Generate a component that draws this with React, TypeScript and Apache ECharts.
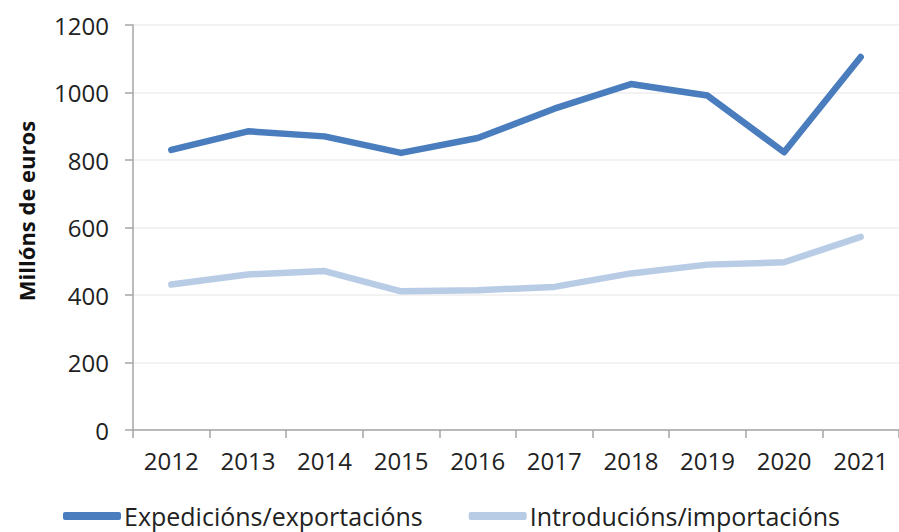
import React, { useEffect, useRef } from "react";
import * as echarts from "echarts";

const years = ["2012", "2013", "2014", "2015", "2016", "2017", "2018", "2019", "2020", "2021"];
const exportsData = [830, 885, 870, 821, 865, 952, 1025, 991, 823, 1105];
const importsData = [431, 461, 471, 411, 414, 424, 464, 490, 497, 572];
const seriesNames = ["Expedicións/exportacións", "Introducións/importacións"];
const yTitle = "Millóns de euros";

const FONT = "Open Sans";

export default function App() {
  const ref = useRef<HTMLDivElement>(null);
  useEffect(() => {
    if (!ref.current) return;
    const chart = echarts.init(ref.current, null, { renderer: "svg" });
    chart.setOption({
      animation: false,
      backgroundColor: "#ffffff",
      textStyle: { fontFamily: FONT },
      grid: { left: 133, top: 25, bottom: 102, width: 773 },
      legend: {
        left: 63,
        top: 503,
        padding: 0,
        itemWidth: 58,
        itemHeight: 8,
        itemGap: 46,
        icon: "roundRect",
        textStyle: {
          fontFamily: FONT,
          fontSize: 25,
          lineHeight: 26,
          color: "#222222",
          padding: [0, 0, 0, -2],
        },
        data: seriesNames,
      },
      xAxis: {
        type: "category",
        data: years,
        axisLine: { lineStyle: { color: "#a6a6a6", width: 1.5 } },
        axisTick: { show: true, length: 8, lineStyle: { color: "#a6a6a6", width: 1.5 } },
        axisLabel: { fontFamily: FONT, fontSize: 24, color: "#222222", margin: 18 },
      },
      yAxis: {
        type: "value",
        min: 0,
        max: 1200,
        interval: 200,
        axisLine: { show: true, lineStyle: { color: "#a6a6a6", width: 1.5 } },
        axisTick: { show: true, length: 8, lineStyle: { color: "#a6a6a6", width: 1.5 } },
        axisLabel: {
          fontFamily: FONT,
          fontSize: 24,
          color: "#222222",
          margin: 24,
          formatter: (v: number) => String(v),
        },
        splitLine: { show: true, lineStyle: { color: "#eeeeee", width: 1.5 } },
      },
      graphic: [
        {
          type: "text",
          x: 26,
          y: 211,
          rotation: Math.PI / 2,
          style: {
            text: yTitle,
            fontFamily: FONT,
            fontSize: 22,
            fontWeight: "bold",
            fill: "#111111",
            textAlign: "center",
            textVerticalAlign: "middle",
          },
        },
      ],
      series: [
        {
          name: seriesNames[0],
          type: "line",
          data: exportsData,
          symbol: "none",
          color: "#4a7dbd",
          lineStyle: { width: 6.5, color: "#4a7dbd", cap: "round", join: "round" },
        },
        {
          name: seriesNames[1],
          type: "line",
          data: importsData,
          symbol: "none",
          color: "#b8cce6",
          lineStyle: { width: 6.5, color: "#b8cce6", cap: "round", join: "round" },
        },
      ],
    });
    return () => chart.dispose();
  }, []);
  return (
    <div
      ref={ref}
      style={{ position: "fixed", left: 0, top: 0, width: 899, height: 532 }}
    />
  );
}
